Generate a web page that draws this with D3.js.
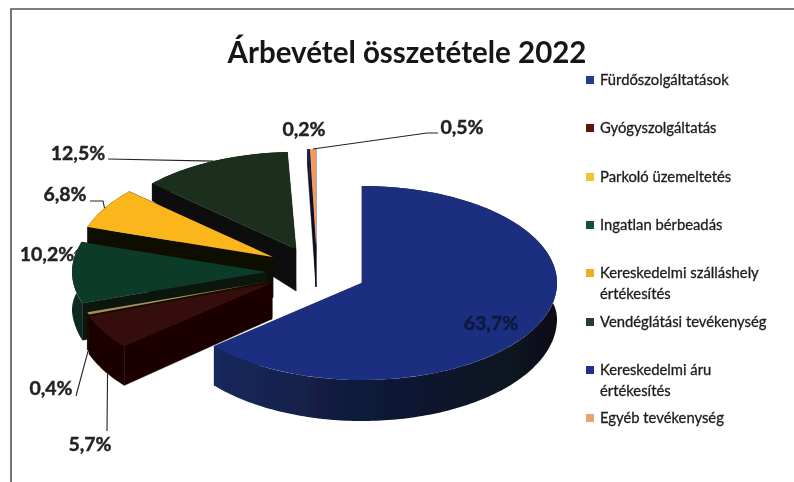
<!DOCTYPE html>
<html><head><meta charset="utf-8">
<script src="https://cdn.jsdelivr.net/npm/d3@7"></script>
<style>html,body{margin:0;padding:0;background:#fff}svg{display:block}text{font-family:Lato,"Open Sans",sans-serif}</style>
</head><body><svg id="c" width="794" height="482"></svg>
<script>
const title = "Árbevétel összetétele 2022";
const categories = ["Fürdőszolgáltatások","Gyógyszolgáltatás","Parkoló üzemeltetés","Ingatlan bérbeadás","Kereskedelmi szálláshely értékesítés","Vendéglátási tevékenység","Kereskedelmi áru értékesítés","Egyéb tevékenység"];
const values = [63.7,5.7,0.4,10.2,6.8,12.5,0.2,0.5];
const valueLabels = ["63,7%","5,7%","0,4%","10,2%","6,8%","12,5%","0,2%","0,5%"];
const legendLines = [["Fürdőszolgáltatások"],["Gyógyszolgáltatás"],["Parkoló üzemeltetés"],["Ingatlan bérbeadás"],["Kereskedelmi szálláshely","értékesítés"],["Vendéglátási tevékenység"],["Kereskedelmi áru","értékesítés"],["Egyéb tevékenység"]];

// styles
const topColors  = ["#1c2f80","#360c09","#a89060","#0f3a2a","#fbb61e","#1d2e1c","#16296e","#f39a5b"];
const cutColors  = ["#10162c","#1c0504","#120e06","#08140e","#100c04","#0b0e08","#0b1226","#0b1226"];
const sideColors = ["url(#blueSide)","#1f0605","#120e06","#0d2c20","#100c04","#0b0e08","#0b1226","#0b1226"];
const legendColors = ["#1f3f8c","#5a1410","#f2c230","#14503a","#eeb01f","#24402a","#1c2f9a","#f0a070"];

// layout: exploded centre of each slice, painter order, ellipse, depth by screen y
const centres = [[362,283],[272,283],[272,281],[267,272],[273,257],[296,249],[316,246],[316,246]];
const drawOrder = [6,7,5,4,3,2,1,0];
const rx = 195, ry = 97;
const depth = d3.scaleLinear().domain([183,249,283,380]).range([17,42,36,41]).clamp(true);
const labelSpec = [
 {i:0,x:491,y:323},
 {i:1,x:90,y:444,via:[[107,431]],down:true,deg:237.5},
 {i:2,x:51,y:388,via:[[76,396]],down:true},
 {i:3,x:47,y:254,via:[[74,254]],deg:283},
 {i:4,x:65,y:194,via:[[90,201],[103,201]]},
 {i:5,x:78,y:153,via:[[108,159]]},
 {i:6,x:304,y:129},
 {i:7,x:462,y:127,via:[[438,133],[427,133]]}
];
const legendY = [80,128,177,225,273,322,370,418];

const svg = d3.select("#c");
const defs = svg.append("defs");
defs.append("filter").attr("id","scan").attr("x",0).attr("y",0).attr("width",1).attr("height",1)
  .append("feGaussianBlur").attr("stdDeviation",0.7);
const grad = defs.append("linearGradient").attr("id","blueSide");
grad.append("stop").attr("offset","0").attr("stop-color","#16295e");
grad.append("stop").attr("offset","0.45").attr("stop-color","#101a38");
grad.append("stop").attr("offset","1").attr("stop-color","#0e1018");

const g = svg.append("g").attr("filter","url(#scan)");
g.append("rect").attr("width",794).attr("height",482).attr("fill","#fff");
g.append("path").attr("d",d3.line()([[11,482],[11,9],[794,9]])).attr("fill","none").attr("stroke","#555").attr("stroke-width",1.6);

g.append("text").text(title).attr("x",407).attr("y",63).attr("text-anchor","middle")
  .attr("font-size",29.5).attr("font-weight",700).attr("fill","#161616");

const arcs = d3.pie().sort(null).value(d=>d)(values);
const pt = (i,a) => [centres[i][0]+rx*Math.sin(a), centres[i][1]-ry*Math.cos(a)];
const drop = p => [p[0], p[1]+depth(p[1])];
const line = d3.line();
const arcGen = d3.arc().innerRadius(0).outerRadius(rx);

drawOrder.forEach(i=>{
  const a = arcs[i], c = centres[i];
  const s = g.append("g");
  const steps = Math.max(2,Math.ceil((a.endAngle-a.startAngle)/0.02));
  const angles = d3.range(steps+1).map(k=>a.startAngle+(a.endAngle-a.startAngle)*k/steps);
  const rim = angles.map(t=>pt(i,t));
  [a.startAngle,a.endAngle].forEach(t=>{
    const p = pt(i,t);
    s.append("path").attr("d",line([c,p,drop(p),drop(c)])+"Z").attr("fill",cutColors[i]).attr("stroke",cutColors[i]).attr("stroke-width",0.4);
  });
  s.append("path").attr("d",line(rim.concat(rim.map(drop).reverse()))+"Z").attr("fill",sideColors[i]);
  s.append("path").attr("d",arcGen(a))
    .attr("transform",`translate(${c[0]},${c[1]}) scale(1,${ry/rx})`)
    .attr("fill",topColors[i]);
});

// leader lines, anchored on the slices
labelSpec.filter(l=>l.via).forEach(l=>{
  const a = arcs[l.i];
  const t = l.deg!==undefined ? l.deg*Math.PI/180 : (a.startAngle+a.endAngle)/2;
  let p = pt(l.i,t); if(l.down) p = drop(p);
  g.append("path").attr("d",line([...l.via,p])).attr("fill","none").attr("stroke","#222").attr("stroke-width",1.1);
});
labelSpec.forEach(l=>{
  g.append("text").text(valueLabels[l.i]).attr("x",l.x).attr("y",l.y).attr("dy","0.35em")
    .attr("text-anchor","middle").attr("font-size",19.5).attr("font-weight",700)
    .attr("fill",l.i===0?"#0c1a3c":"#222").attr("stroke",l.i===0?"#0c1a3c":"#222").attr("stroke-width",0.4);
});

// legend
categories.forEach((name,i)=>{
  const y = legendY[i];
  g.append("rect").attr("x",586).attr("y",y-4).attr("width",8).attr("height",8).attr("fill",legendColors[i]);
  legendLines[i].forEach((t,k)=>{
    g.append("text").text(t).attr("x",600).attr("y",y+k*21).attr("dy","0.35em")
      .attr("font-size",14.8).attr("fill","#1c1c1c").attr("stroke","#1c1c1c").attr("stroke-width",0.3);
  });
});
</script></body></html>
